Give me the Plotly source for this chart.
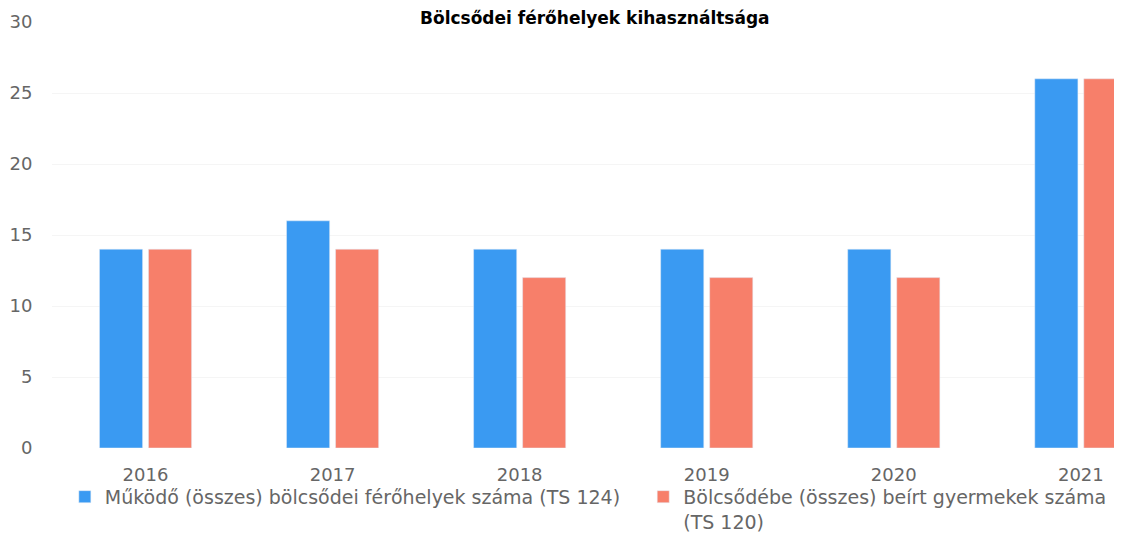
import plotly.graph_objects as go

years = ["2016", "2017", "2018", "2019", "2020", "2021"]
ferohelyek = [14, 16, 14, 14, 14, 26]
beirt = [14, 14, 12, 12, 12, 26]
name1 = "Működő (összes) bölcsődei férőhelyek száma (TS 124)"
name2 = "Bölcsődébe (összes) beírt gyermekek száma<br>(TS 120)"
title = "Bölcsődei férőhelyek kihasználtsága"

font = "DejaVu Sans, sans-serif"
grey = "#666666"

fig = go.Figure()
fig.add_trace(go.Bar(x=years, y=ferohelyek, name=name1 + "\u00a0\u00a0\u00a0",
                     marker_color="#3a9af2"))
fig.add_trace(go.Bar(x=years, y=beirt, name=name2, marker_color="#f77f6a"))

fig.update_layout(
    width=1122, height=540,
    margin=dict(l=44, r=8, t=14, b=100, autoexpand=False),
    paper_bgcolor="white", plot_bgcolor="white",
    barmode="group", bargap=0.476, bargroupgap=0.12,
    font=dict(family=font, size=18, color=grey),
    title=dict(text="<b>" + title + "</b>", x=0.523, xanchor="center",
               y=1.0, yref="container", yanchor="top", pad=dict(t=4),
               font=dict(family=font, size=17, color="black")),
    showlegend=True,
    legend=dict(orientation="h", x=0.012, xanchor="left", y=-0.07, yanchor="top",
                font=dict(size=19, color=grey), itemwidth=30,
                traceorder="normal", valign="top", bgcolor="rgba(0,0,0,0)"),
    xaxis=dict(type="category", range=[-0.5, 5.22], showline=False, ticks="",
               tickfont=dict(size=18, color=grey), ticklabelstandoff=14,
               automargin=False),
    yaxis=dict(range=[0, 30], dtick=5, showgrid=True, gridcolor="#f5f5f5",
               zeroline=False, showline=False, ticks="outside", ticklen=15,
               tickcolor="white", tickfont=dict(size=18, color=grey),
               automargin=False),
)

fig.write_html("out.html")
